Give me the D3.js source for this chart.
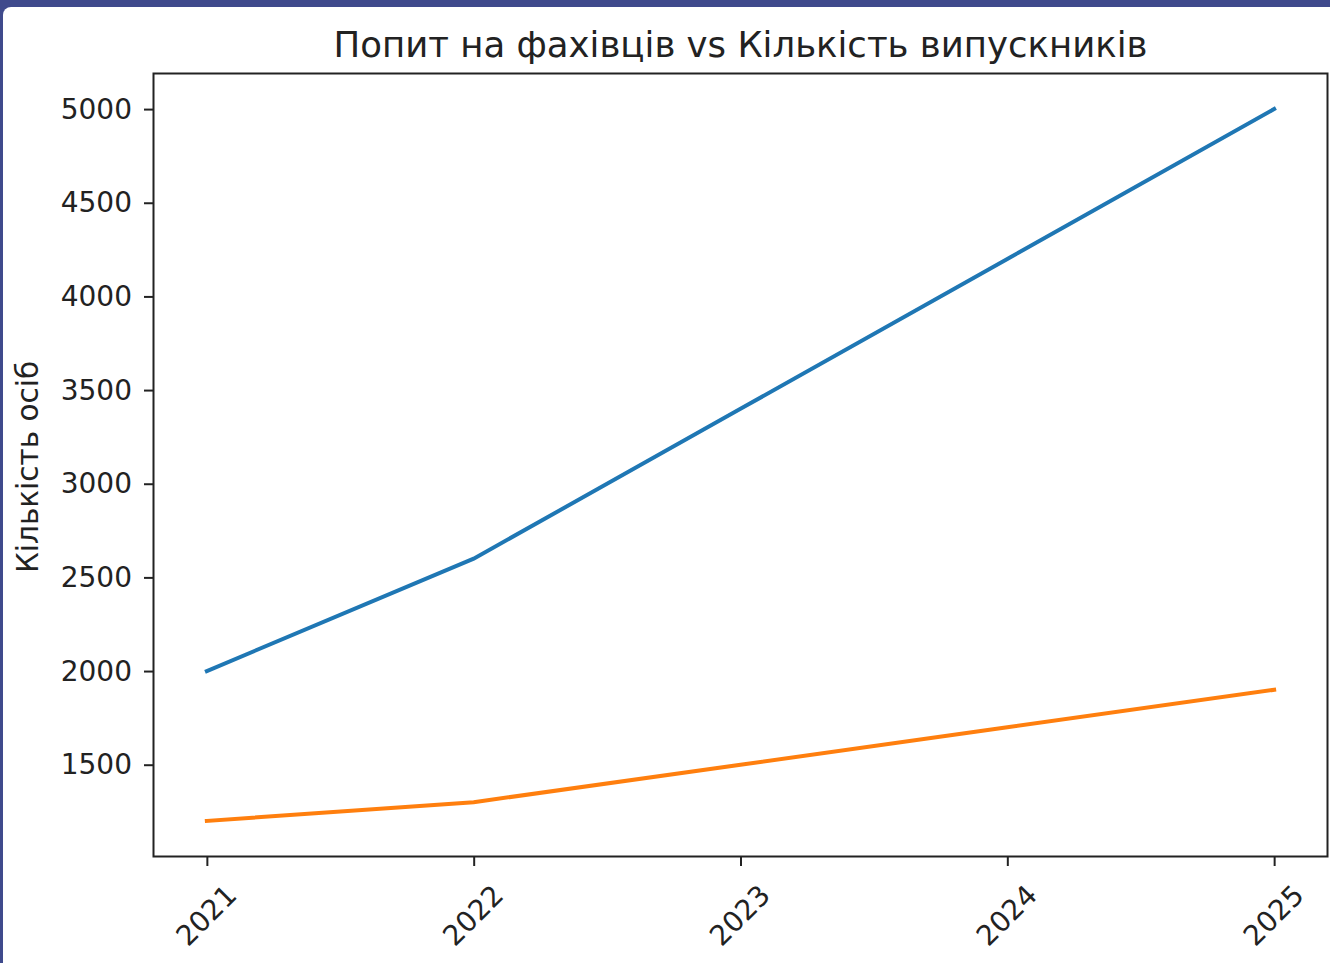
<!DOCTYPE html>
<html>
<head>
<meta charset="utf-8">
<script src="https://cdn.jsdelivr.net/npm/d3@7"></script>
<style>
  body { margin: 0; background: #3f4a8c; }
  svg { display: block; font-family: "DejaVu Sans", sans-serif; }
</style>
</head>
<body>
<svg id="chart" width="1330" height="963"></svg>
<script>
// data
var years = [2021, 2022, 2023, 2024, 2025];
var demand = [2000, 2600, 3400, 4200, 5000];      // попит на фахівців
var graduates = [1200, 1300, 1500, 1700, 1900];   // кількість випускників
var yTicks = [1500, 2000, 2500, 3000, 3500, 4000, 4500, 5000];

var svg = d3.select("#chart");

// screenshot frame
svg.append("rect").attr("width", 1330).attr("height", 963).attr("fill", "#3f4a8c");
svg.append("rect")
    .attr("x", 3).attr("y", 7)
    .attr("width", 1400).attr("height", 1000)
    .attr("rx", 8)
    .attr("fill", "#ffffff");

var margin = {left: 153.5, right: 1327.5, top: 73.5, bottom: 856.5};

// matplotlib style 5% margins
var x = d3.scaleLinear().domain([2020.8, 2025.2]).range([margin.left, margin.right]);
var y = d3.scaleLinear().domain([1010, 5190]).range([margin.bottom, margin.top]);

var line = d3.line()
    .x(function(d, i) { return x(years[i]); })
    .y(function(d) { return y(d); });

var series = [
    {values: demand, color: "#1f77b4"},
    {values: graduates, color: "#ff7f0e"}
];

svg.selectAll(".series")
    .data(series)
    .enter()
    .append("path")
    .attr("class", "series")
    .attr("d", function(d) { return line(d.values); })
    .attr("fill", "none")
    .attr("stroke", function(d) { return d.color; })
    .attr("stroke-width", 4)
    .attr("stroke-linecap", "square");

// axes
var yAxis = d3.axisLeft(y).tickValues(yTicks).tickSize(9.5).tickPadding(12).tickFormat(d3.format("d"));
var xAxis = d3.axisBottom(x).tickValues(years).tickSize(9.5).tickFormat(d3.format("d"));

var gy = svg.append("g").attr("transform", "translate(" + margin.left + ",0)").call(yAxis);
gy.select(".domain").remove();
gy.selectAll("line").attr("stroke", "#222").attr("stroke-width", 2);
gy.selectAll("text").attr("font-size", 28).attr("fill", "#222").attr("font-family", "DejaVu Sans");

var gx = svg.append("g").attr("transform", "translate(0," + margin.bottom + ")").call(xAxis);
gx.select(".domain").remove();
gx.selectAll("line").attr("stroke", "#222").attr("stroke-width", 2);
gx.selectAll("text")
    .attr("font-size", 28)
    .attr("fill", "#222")
    .attr("font-family", "DejaVu Sans")
    .attr("text-anchor", "middle")
    .attr("dy", null)
    .attr("y", null)
    .attr("dominant-baseline", "central")
    .attr("transform", "translate(-1,59) rotate(-45)");

// plot frame
svg.append("rect")
    .attr("x", margin.left).attr("y", margin.top)
    .attr("width", margin.right - margin.left)
    .attr("height", margin.bottom - margin.top)
    .attr("fill", "none")
    .attr("stroke", "#222")
    .attr("stroke-width", 2);

// title and label
svg.append("text")
    .attr("x", (margin.left + margin.right) / 2)
    .attr("y", 57)
    .attr("text-anchor", "middle")
    .attr("font-size", 35.5)
    .attr("fill", "#222")
    .text("Попит на фахівців vs Кількість випускників");

svg.append("text")
    .attr("transform", "translate(38,467) rotate(-90)")
    .attr("text-anchor", "middle")
    .attr("font-size", 29.5)
    .attr("fill", "#222")
    .text("Кількість осіб");
</script>
</body>
</html>
